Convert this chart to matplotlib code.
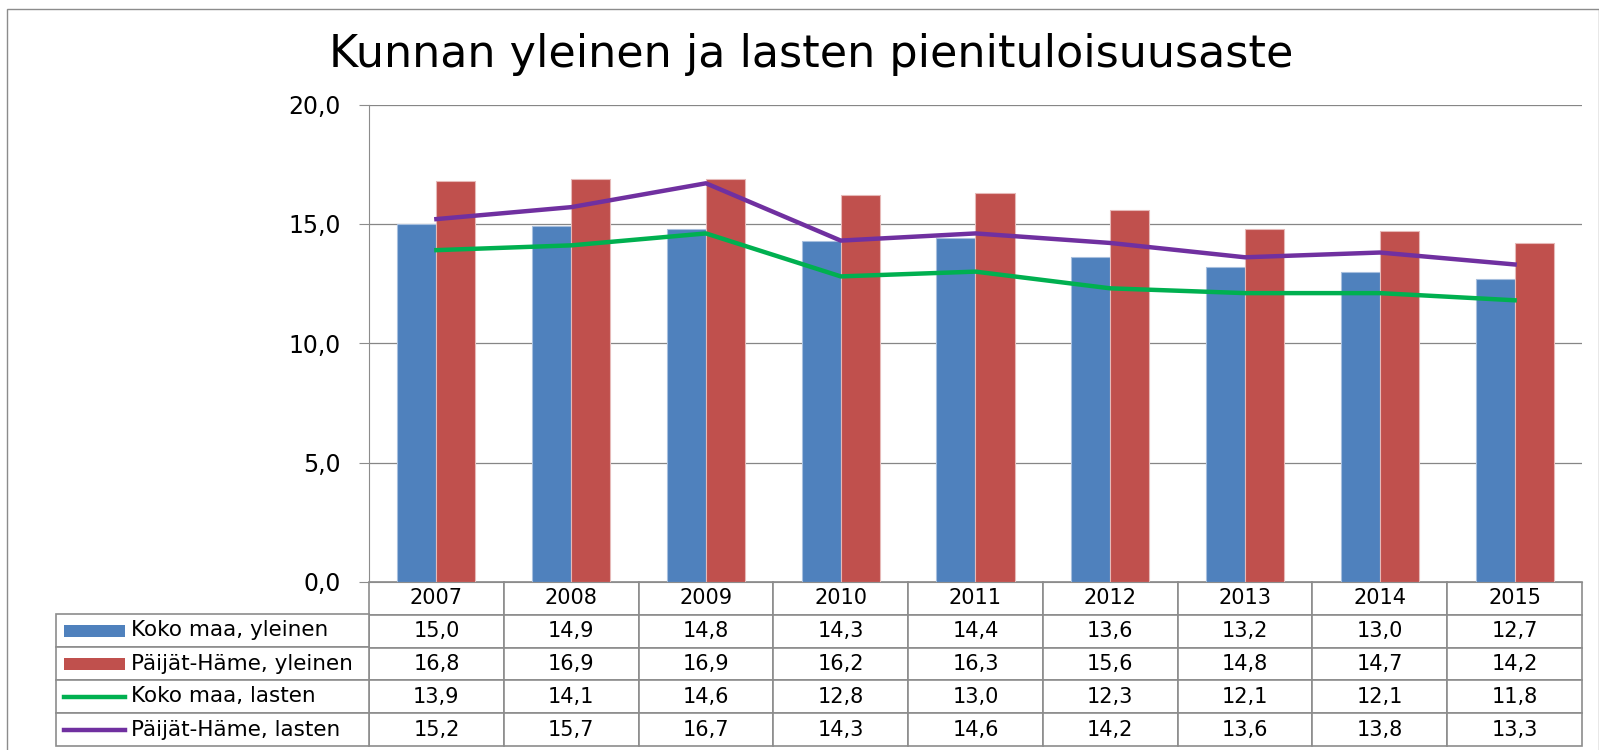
import matplotlib.pyplot as plt
from matplotlib.patches import Rectangle
from matplotlib.lines import Line2D
from matplotlib.ticker import FuncFormatter
import numpy as np

# data
years = ['2007', '2008', '2009', '2010', '2011', '2012', '2013', '2014', '2015']
koko_yleinen = [15.0, 14.9, 14.8, 14.3, 14.4, 13.6, 13.2, 13.0, 12.7]
ph_yleinen = [16.8, 16.9, 16.9, 16.2, 16.3, 15.6, 14.8, 14.7, 14.2]
koko_lasten = [13.9, 14.1, 14.6, 12.8, 13.0, 12.3, 12.1, 12.1, 11.8]
ph_lasten = [15.2, 15.7, 16.7, 14.3, 14.6, 14.2, 13.6, 13.8, 13.3]
series_names = ['Koko maa, yleinen', 'Päijät-Häme, yleinen',
                'Koko maa, lasten', 'Päijät-Häme, lasten']
yticks = [0, 5, 10, 15, 20]

blue = '#4F81BD'
red = '#C0504D'
green = '#00B050'
purple = '#7030A0'
gray = '#8C8C8C'

def fi(v):
    # finnish decimal comma
    return f'{v:.1f}'.replace('.', ',')

W, H = 1599, 750
fig = plt.figure(figsize=(W / 100, H / 100), dpi=100)

# plot area in pixels: left 369, right 1582, top 104.5, bottom 582
ax_h = 582 - 104.5
ax = fig.add_axes([369 / W, 1 - 582 / H, 1213 / W, ax_h / H])

x = np.arange(len(years))
bw = 0.29
ax.bar(x - bw / 2, koko_yleinen, bw, color=blue, edgecolor='#A7BFDE', linewidth=0.8, zorder=2)
ax.bar(x + bw / 2, ph_yleinen, bw, color=red, edgecolor='#E6B9B8', linewidth=0.8, zorder=2)
ax.plot(x, koko_lasten, color=green, lw=3.2, zorder=3)
ax.plot(x, ph_lasten, color=purple, lw=3.2, zorder=3)

ax.set_xlim(-0.5, len(years) - 0.5)
ax.set_ylim(0, 20)
ax.set_yticks(yticks)
ax.yaxis.set_major_formatter(FuncFormatter(lambda v, p: fi(v)))
ax.tick_params(axis='y', length=7.2, width=0.8, color=gray, labelsize=17, pad=13)
ax.tick_params(axis='x', bottom=False, labelbottom=False)
ax.grid(axis='y', color='#868686', lw=0.9)
ax.set_axisbelow(True)
for s in ['top', 'right']:
    ax.spines[s].set_visible(False)
ax.spines['left'].set_color(gray)
ax.spines['bottom'].set_color(gray)

# data table under the chart
tbl_h = (746 - 582) / ax_h
cell_text = [[fi(v) for v in s] for s in [koko_yleinen, ph_yleinen, koko_lasten, ph_lasten]]
tbl = ax.table(cellText=cell_text, colLabels=years, cellLoc='center',
               bbox=[0, -tbl_h, 1, tbl_h])
tbl.auto_set_font_size(False)
tbl.set_fontsize(15)
for cell in tbl.get_celld().values():
    cell.set_edgecolor(gray)
    cell.set_linewidth(1.2)

# row labels in their own table
lab_h = (746 - 614) / ax_h
tbl2 = ax.table(cellText=[[n] for n in series_names], cellLoc='left',
                bbox=[(56 - 369) / 1213, -tbl_h, 313 / 1213, lab_h])
tbl2.auto_set_font_size(False)
tbl2.set_fontsize(15.5)
for cell in tbl2.get_celld().values():
    cell.set_edgecolor(gray)
    cell.set_linewidth(1.2)
    cell.PAD = 0.24

# legend keys in the row label cells
row_h = 33
for i, c in enumerate([blue, red, green, purple]):
    yc = 614 + row_h / 2 + row_h * i
    if i < 2:
        fig.add_artist(Rectangle((64 / W, 1 - (yc + 6) / H), 61 / W, 12 / H,
                                 facecolor=c, edgecolor='none', transform=fig.transFigure))
    else:
        fig.add_artist(Line2D([64 / W, 125 / W], [1 - yc / H, 1 - yc / H], color=c,
                              lw=3.2, transform=fig.transFigure))

fig.text(811 / W, 1 - 54 / H, 'Kunnan yleinen ja lasten pienituloisuusaste',
         ha='center', va='center', fontsize=32)

# outer chart frame
fig.add_artist(Rectangle((6.5 / W, -0.05), (1598.5 - 6.5) / W, 1.05 - 9.5 / H,
                         fill=False, edgecolor=gray, lw=1, transform=fig.transFigure))

fig.savefig('out.png', dpi=100)
